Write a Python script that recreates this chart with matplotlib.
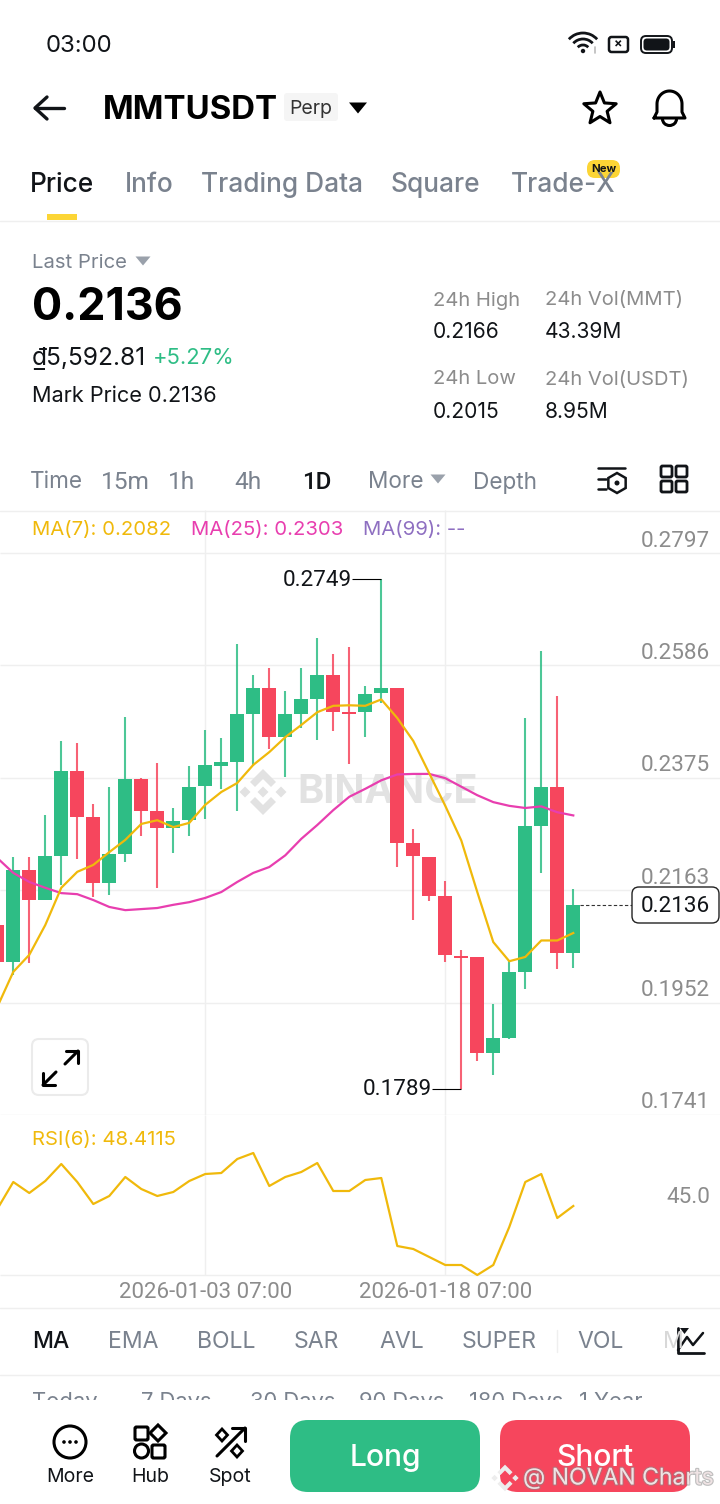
import numpy as np
import matplotlib
matplotlib.use('Agg')
import matplotlib.pyplot as plt
import matplotlib.patheffects as pe
from matplotlib.patches import Arc, Circle, FancyBboxPatch, Polygon, Rectangle

plt.rcParams['font.family'] = ['Inter', 'DejaVu Sans']

# ─── Data ──────────────────────────────────────────────────────────────────
opens = [0.2098, 0.2029, 0.2201, 0.2145, 0.2228, 0.2387, 0.2301, 0.2177, 0.2231, 0.2372, 0.2312, 0.2280, 0.2295,
         0.2359, 0.2397, 0.2404, 0.2495, 0.2543, 0.2451, 0.2495, 0.2523, 0.2568, 0.2498, 0.2498, 0.2535, 0.2543,
         0.2252, 0.2226, 0.2153, 0.2040, 0.2038, 0.1858, 0.1886, 0.2010, 0.2284, 0.2358, 0.2045]
highs = [0.2110, 0.2226, 0.2226, 0.2305, 0.2444, 0.2440, 0.2325, 0.2357, 0.2489, 0.2374, 0.2402, 0.2318, 0.2397,
         0.2464, 0.2449, 0.2626, 0.2568, 0.2581, 0.2538, 0.2581, 0.2637, 0.2607, 0.2620, 0.2547, 0.2749, 0.2543,
         0.2278, 0.2226, 0.2181, 0.2052, 0.2038, 0.1950, 0.2030, 0.2487, 0.2613, 0.2528, 0.2166]
lows = [0.2022, 0.2004, 0.2027, 0.2145, 0.2173, 0.2222, 0.2151, 0.2154, 0.2216, 0.2265, 0.2168, 0.2233, 0.2265,
        0.2297, 0.2354, 0.2312, 0.2397, 0.2429, 0.2376, 0.2468, 0.2446, 0.2463, 0.2401, 0.2451, 0.2515, 0.2208,
        0.2107, 0.2143, 0.2029, 0.1789, 0.1843, 0.1817, 0.1884, 0.1978, 0.2196, 0.2015, 0.2018]
closes = [0.2029, 0.2201, 0.2145, 0.2228, 0.2387, 0.2301, 0.2177, 0.2231, 0.2372, 0.2312, 0.2280, 0.2293, 0.2357,
          0.2399, 0.2404, 0.2495, 0.2543, 0.2451, 0.2495, 0.2523, 0.2568, 0.2498, 0.2495, 0.2533, 0.2543, 0.2252,
          0.2228, 0.2153, 0.2042, 0.2036, 0.1858, 0.1886, 0.2010, 0.2284, 0.2358, 0.2046, 0.2136]
ma7 = [0.1944, 0.2010, 0.2042, 0.2098, 0.2168, 0.2198, 0.2211, 0.2235, 0.2258, 0.2288, 0.2295, 0.2282, 0.2290,
       0.2324, 0.2348, 0.2365, 0.2399, 0.2423, 0.2451, 0.2474, 0.2498, 0.2510, 0.2511, 0.2510, 0.2522, 0.2487,
       0.2444, 0.2383, 0.2322, 0.2257, 0.2160, 0.2066, 0.2030, 0.2038, 0.2069, 0.2069, 0.2083]
ma25 = [0.2224, 0.2196, 0.2179, 0.2168, 0.2158, 0.2156, 0.2145, 0.2132, 0.2126, 0.2128, 0.2130, 0.2136, 0.2141,
        0.2149, 0.2160, 0.2179, 0.2196, 0.2207, 0.2229, 0.2260, 0.2286, 0.2314, 0.2339, 0.2354, 0.2370, 0.2381,
        0.2382, 0.2382, 0.2374, 0.2358, 0.2342, 0.2329, 0.2322, 0.2318, 0.2321, 0.2310, 0.2304]
rsi6 = [46.9, 60.4, 54.9, 60.9, 69.4, 60.4, 49.4, 53.4, 62.9, 56.9, 53.4, 55.4, 60.9, 64.4, 64.9, 71.9, 74.9, 58.4,
        62.9, 65.4, 69.9, 55.9, 55.9, 61.4, 62.4, 28.4, 26.9, 22.9, 18.9, 18.9, 13.9, 18.9, 37.9, 60.4, 64.4, 42.4,
        48.4]
price_ticks = [0.2797, 0.2586, 0.2375, 0.2163, 0.1952, 0.1741]
date_ticks = [12, 27]
date_labels = ['2026-01-03 07:00', '2026-01-18 07:00']
days = np.arange(-1, 36)

GREEN = '#2EBD85'
RED = '#F6465D'
YELLOW = '#F0B90B'
PINK = '#E83EAF'
DARK = '#111418'
GRAY = '#7A828E'
AXISGRAY = '#8C8C8C'
LINE = '#EFEFEF'
NUM = ['Roboto', 'DejaVu Sans']
W, H = 720, 1504

fig = plt.figure(figsize=(W / 100, H / 100), dpi=100, facecolor='white')


def pos(left, top, right, bottom):
    return [left / W, 1 - bottom / H, (right - left) / W, (bottom - top) / H]


# ─── Candle panel ──────────────────────────────────────────────────────────
ax = fig.add_axes(pos(0, 510, W, 1115))
ax.set_xlim(-0.83, 44.17)
ax.set_ylim(0.1741, 0.2878)
ax.set_axis_off()
ax.hlines(price_ticks, -0.83, 44.17, color=LINE, lw=1, zorder=0.5)
ax.vlines(date_ticks, 0.1741, 0.2878, color=LINE, lw=1, zorder=0.5)

o, h, l, c = map(np.array, (opens, highs, lows, closes))
cols = [GREEN if b >= a else RED for a, b in zip(o, c)]
ax.vlines(days, l, h, color=cols, lw=1.5, zorder=2, alpha=0.85)
ax.bar(days, np.abs(c - o), bottom=np.minimum(o, c), width=0.875, color=cols, zorder=3)
ax.plot(days, ma25, color=PINK, lw=1.6, zorder=4)
ax.plot(days, ma7, color=YELLOW, lw=1.6, zorder=5)

for v in price_ticks:
    ax.annotate(f'{v:.4f}', (44.17, v), xytext=(-10, 12), textcoords='offset pixels', ha='right', va='center',
                fontsize=16.2, family=NUM, color=AXISGRAY, zorder=6)

# high / low callouts and last price line
i_hi, i_lo = int(np.argmax(h)), int(np.argmin(l))
ax.hlines(h[i_hi], days[i_hi] - 1.85, days[i_hi], color='black', lw=0.8, zorder=6)
ax.hlines(l[i_lo], days[i_lo] - 1.85, days[i_lo], color='black', lw=0.8, zorder=6)
ax.annotate(f'{h[i_hi]:.4f}', (days[i_hi] - 1.85, h[i_hi]), xytext=(0, -2), textcoords='offset pixels', ha='right',
            va='center', fontsize=16.2, family=NUM, color=DARK, zorder=6)
ax.annotate(f'{l[i_lo]:.4f}', (days[i_lo] - 1.85, l[i_lo]), xytext=(0, 0), textcoords='offset pixels', ha='right',
            va='center', fontsize=16.2, family=NUM, color=DARK, zorder=6)
ax.hlines(c[-1], days[-1] + 0.45, 38.65, color='#333333', lw=0.8, ls=(0, (3, 2)), zorder=6)

# ─── RSI panel ─────────────────────────────────────────────────────────────
ax2 = fig.add_axes(pos(0, 1115, W, 1275))
ax2.set_xlim(-0.83, 44.17)
ax2.set_ylim(13.9, 93.9)
ax2.set_axis_off()
ax2.vlines(date_ticks, 13.9, 93.9, color=LINE, lw=1, zorder=0.5)
ax2.hlines(13.9, -0.83, 44.17, color=LINE, lw=1, clip_on=False, zorder=0.5)
ax2.plot(days, rsi6, color=YELLOW, lw=1.6, clip_on=False, zorder=3)
ax2.annotate('45.0', (44.17, 45), xytext=(-10, 15), textcoords='offset pixels', ha='right', va='center',
             fontsize=16.2, family=NUM, color=AXISGRAY)
for d, s in zip(date_ticks, date_labels):
    ax2.annotate(s, (d, 13.9), xytext=(0, -18), textcoords='offset pixels', ha='center', va='center',
                 fontsize=16, family=NUM, color=AXISGRAY)

# ─── Screen furniture in pixel coordinates ─────────────────────────────────
ui = fig.add_axes([0, 0, 1, 1], zorder=10)
ui.set_xlim(0, W)
ui.set_ylim(H, 0)
ui.set_axis_off()
ui.patch.set_alpha(0)


def txt(x, y, s, px, color=DARK, weight='normal', ha='left', **kw):
    # va='center' sits a little high for this font, hence the nudge
    return ui.text(x, y + 2.5, s, fontsize=px * 0.72, color=color, fontweight=weight, ha=ha, va='center', **kw)


def line(xs, ys, color=DARK, lw=2.2, **kw):
    ui.plot(xs, ys, color=color, lw=lw, solid_capstyle='round', solid_joinstyle='round', **kw)


def rbox(x0, y0, x1, y1, r, fc='none', ec='none', lw=0, **kw):
    ui.add_patch(FancyBboxPatch((x0, y0), x1 - x0, y1 - y0, boxstyle=f'round,pad=0,rounding_size={r}',
                                fc=fc, ec=ec, lw=lw, **kw))


def tri(cx, cy, w, hh, color):
    ui.add_patch(Polygon([(cx - w / 2, cy - hh / 2), (cx + w / 2, cy - hh / 2), (cx, cy + hh / 2)], fc=color, ec='none'))


def logo(cx, cy, s, color, **kw):
    for dx in (-18, 18):
        ui.add_patch(Polygon([(cx + dx * s, cy - 5.5 * s), (cx + (dx + 5.5) * s, cy), (cx + dx * s, cy + 5.5 * s),
                              (cx + (dx - 5.5) * s, cy)], fc=color, ec='none', **kw))
    for sign in (-1, 1):
        pts = [(0, 23), (13, 10), (8, 5), (0, 13), (-8, 5), (-13, 10)]
        ui.add_patch(Polygon([(cx + a * s, cy + sign * b * s) for a, b in pts], fc=color, ec='none', **kw))


# status bar
txt(46, 43, '03:00', 24, color=DARK)
for r in (7, 13, 19):
    ui.add_patch(Arc((583, 52), 2 * r, 2 * r, theta1=222, theta2=318, color=DARK, lw=2))
ui.add_patch(Circle((583, 51), 2.2, fc=DARK, ec='none'))
line([595, 595], [47, 53], color='#BBBBBB', lw=1.2)
rbox(609, 37, 628, 52, 2.5, ec=DARK, lw=1.8)
ui.text(618.5, 44.5, '×', fontsize=9, ha='center', va='center', fontweight='bold', color=DARK)
rbox(641, 36, 672, 53, 5, fc='white', ec=DARK, lw=1.4)
rbox(643.5, 38.5, 669.5, 50.5, 3.5, fc=DARK)
ui.add_patch(Rectangle((673, 41), 1.5, 7, fc=DARK, ec='none'))

# title row
line([35, 64], [108, 108], lw=2.4)
line([47, 35, 47], [97, 108, 119], lw=2.4)
txt(103, 108, 'MMTUSDT', 33, weight='bold', color='black')
rbox(284, 93, 338, 121, 3, fc='#F5F5F5')
txt(311, 107, 'Perp', 19.5, ha='center', color='#333333')
tri(358, 108, 18, 11, 'black')
a = np.radians(np.arange(0, 360, 36) - 90)
rad = np.where(np.arange(10) % 2 == 0, 17, 7.5)
ui.add_patch(Polygon(np.c_[600 + rad * np.cos(a), 109 + rad * np.sin(a)], fc='none', ec='black', lw=2.2, joinstyle='round'))
t = np.linspace(np.pi, 2 * np.pi, 40)
bx = np.r_[654, 657, 657 + 12.5 * (1 + np.cos(t)), 682, 685, 654]
by = np.r_[118, 112, 104 + 13 * np.sin(t), 112, 118, 118]
line(bx, by, lw=2.2, color='black')
ui.add_patch(Arc((669.5, 119), 14, 13, theta1=0, theta2=180, color='black', lw=2.2))

# tabs
txt(30, 183, 'Price', 26.3, weight='medium')
for x, s in [(125, 'Info'), (201, 'Trading Data'), (391, 'Square'), (511, 'Trade-X')]:
    txt(x, 183, s, 26.3, color=GRAY, weight='medium')
rbox(587, 160, 620, 178, 8, fc='#FCD535')
ui.text(603.5, 169, 'New', fontsize=8.2, ha='center', va='center', fontweight='bold', color=DARK)
ui.add_patch(Rectangle((47, 214), 30, 6, fc='#FCD535', ec='none'))
line([0, W], [220.5, 220.5], color=LINE, lw=1)

# price block
txt(32, 261, 'Last Price', 20.3, color=GRAY)
tri(143, 261, 15, 9, '#9AA1AB')
txt(32, 306, '0.2136', 44.8, weight='bold', color='black')
txt(32, 356, '₫5,592.81', 24.5, color=DARK)
txt(153, 356, '+5.27%', 22, color=GREEN)
txt(32, 393, 'Mark Price 0.2136', 21.7, color=DARK)
for x, a1, v1, a2, v2 in [(433, '24h High', '0.2166', '24h Low', '0.2015'),
                          (545, '24h Vol(MMT)', '43.39M', '24h Vol(USDT)', '8.95M')]:
    txt(x, 298, a1, 20.2, color=AXISGRAY)
    txt(x, 329, v1, 21, color=DARK)
    txt(x, 377, a2, 20.2, color=AXISGRAY)
    txt(x, 409, v2, 21, color=DARK)

# interval row
for x, s in [(30, 'Time'), (368, 'More'), (473, 'Depth')]:
    txt(x, 480, s, 22.6, color=GRAY)
for x, s in [(101, '15m'), (168, '1h'), (234, '4h')]:
    txt(x, 480, s, 24.5, color=GRAY, family=NUM)
txt(302, 480, '1D', 24, weight='medium', family=NUM)
tri(438, 479, 15, 9, '#9AA1AB')
line([598, 625], [468, 468], lw=1.8)
line([598, 606], [479, 479], lw=1.8)
line([598, 606], [489, 489], lw=1.8)
a6 = np.radians(np.arange(0, 360, 60) - 90)
ui.add_patch(Polygon(np.c_[617 + 10 * np.cos(a6), 483 + 10 * np.sin(a6)], fc='none', ec=DARK, lw=1.8))
ui.add_patch(Circle((617, 483), 2.5, fc=DARK, ec='none'))
for bx0, by0 in [(661, 466), (676, 466), (661, 481), (676, 481)]:
    rbox(bx0, by0, bx0 + 11, by0 + 11, 1.5, ec=DARK, lw=2)
line([0, W], [510.5, 510.5], color=LINE, lw=1)

# indicator legends
txt(32, 527, 'MA(7): 0.2082', 20.3, color=YELLOW)
txt(191, 527, 'MA(25): 0.2303', 20.3, color=PINK)
txt(363, 527, 'MA(99): --', 20.3, color='#8E6FC1')
txt(32, 1138, 'RSI(6): 48.4115', 20.3, color=YELLOW)

# watermark sits behind the candles, so it goes on the candle axes
ax.text(17.75, 0.2797 - (792 - 553) / 5322, 'BINANCE', fontsize=28.5, fontweight='bold', color='#E2E2E2',
        va='center', ha='left', zorder=1)
for dx in (-18, 0, 18):
    pts = [(263 + dx, 786.5), (268.5 + dx, 792), (263 + dx, 797.5), (257.5 + dx, 792)]
    ax.add_patch(Polygon(pts, fc='#E2E2E2', ec='none', transform=ui.transData, zorder=1))
for sign in (-1, 1):
    pts = [(263 + a1, 792 + sign * b1) for a1, b1 in [(0, 23), (13, 10), (8, 5), (0, 13), (-8, 5), (-13, 10)]]
    ax.add_patch(Polygon(pts, fc='#E2E2E2', ec='none', transform=ui.transData, zorder=1))

# last price tag and expand button
rbox(632, 887, 719, 923, 7, fc='white', ec='#222222', lw=1)
ui.text(675.5, 906, f'{closes[-1]:.4f}', fontsize=16.2, family=NUM, ha='center', va='center', color=DARK)
rbox(32, 1039, 88, 1095, 7, fc='white', ec='#EBEBEB', lw=1.5)
line([43, 56], [1085, 1072], color='black')
line([43, 43, 55], [1073, 1085, 1085], color='black')
line([78, 65], [1051, 1064], color='black')
line([66, 78, 78], [1051, 1051, 1063], color='black')

# indicator row
line([0, W], [1307.5, 1307.5], color=LINE, lw=1)
txt(32, 1340, 'MA', 23, weight='medium')
for x, s in [(108, 'EMA'), (197, 'BOLL'), (294, 'SAR'), (379, 'AVL'), (462, 'SUPER'), (577, 'VOL')]:
    txt(x, 1340, s, 23, color=GRAY)
txt(663, 1340, 'M', 23, color='#D8D8D8')
line([556.5, 556.5], [1330, 1352], color=LINE, lw=1)
rbox(672, 1322, 710, 1360, 0.1, fc='white')
line([677.5, 677.5, 704], [1328, 1353, 1353], color=DARK, lw=2)
line([678, 687, 693, 703], [1350, 1337, 1345, 1333], color=DARK, lw=1.8)
tri(684.5, 1331, 9, 6, DARK)
line([0, W], [1374.5, 1374.5], color=LINE, lw=1)
for x, s in [(32, 'Today'), (141, '7 Days'), (250, '30 Days'), (359, '90 Days'), (469, '180 Days'), (579, '1 Year')]:
    txt(x, 1399, s, 22, color=GRAY)
ui.add_patch(Rectangle((0, 1400), W, 104, fc='white', ec='none', zorder=5))

# bottom bar
Z = dict(zorder=6)
ui.add_patch(Circle((70, 1442), 16, fc='none', ec='black', lw=2.2, **Z))
for dx in (-6, 0, 6):
    ui.add_patch(Circle((70 + dx, 1442), 1.8, fc='black', ec='none', **Z))
rbox(135, 1427, 148, 1440, 1.5, ec='black', lw=2.2, **Z)
ui.add_patch(Polygon([(158, 1425), (166, 1433), (158, 1441), (150, 1433)], fc='none', ec='black', lw=2.2, **Z))
ui.add_patch(Circle((141.5, 1451), 7, fc='none', ec='black', lw=2.2, **Z))
rbox(152, 1445, 165, 1458, 1.5, ec='black', lw=2.2, **Z)
line([217, 245], [1456, 1428], color='black', **Z)
line([232, 245, 245], [1428, 1428, 1441], color='black', **Z)
ui.add_patch(Polygon([(222, 1429), (227.5, 1435), (222, 1441), (216.5, 1435)], fc='none', ec='black', lw=2, **Z))
ui.add_patch(Polygon([(237, 1445), (242.5, 1451), (237, 1457), (231.5, 1451)], fc='none', ec='black', lw=2, **Z))
for x, s in [(70, 'More'), (150, 'Hub'), (230, 'Spot')]:
    txt(x, 1475, s, 19.5, ha='center', **Z)
rbox(290, 1420, 480, 1492, 18, fc=GREEN, **Z)
rbox(500, 1420, 690, 1492, 18, fc=RED, **Z)
txt(385, 1455, 'Long', 30, color='white', ha='center', weight='medium', **Z)
txt(595, 1455, 'Short', 30, color='white', ha='center', weight='medium', **Z)

# screenshot watermark on top of everything
halo = [pe.withStroke(linewidth=1.6, foreground='#8A8A8A', alpha=0.55)]
logo(505, 1478, 0.58, '#EDEDED', zorder=7)
ui.add_patch(Polygon([(505, 1473.5), (509.5, 1478), (505, 1482.5), (500.5, 1478)], fc=RED, ec='none', zorder=8))
txt(523, 1476, '@ NOVAN Charts', 23, color='#EFE3E4', zorder=8, path_effects=halo)

fig.savefig('out.png', dpi=100)
plt.close()
